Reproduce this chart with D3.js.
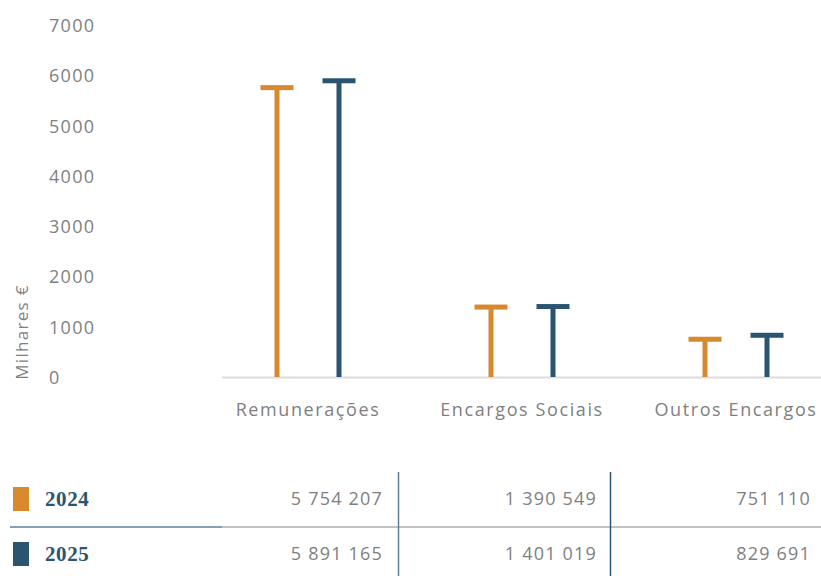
<!DOCTYPE html>
<html>
<head>
<meta charset="utf-8">
<script src="https://cdn.jsdelivr.net/npm/d3@7"></script>
<style>
  html, body { margin: 0; padding: 0; background: #fff; }
  svg { display: block; }
  text { font-family: "Open Sans", sans-serif; }
</style>
</head>
<body>
<svg id="chart" width="821" height="576"></svg>
<script>
// Staff costs by category, in euros
const categories = ["Remunerações", "Encargos Sociais", "Outros Encargos"];
const years = ["2024", "2025"];
const values2024 = [5754207, 1390549, 751110];
const values2025 = [5891165, 1401019, 829691];
const yTicks = [0, 1000, 2000, 3000, 4000, 5000, 6000, 7000];
const colors = ["#d8892d", "#2a5570"];
const seriesValues = [values2024, values2025];

const svg = d3.select("#chart");
const labelFont = "18px";
const labelSpacing = "1.3px";

const y = d3.scaleLinear().domain([0, 7000]).range([377, 25]);
const x = d3.scaleBand().domain(categories).range([201, 843]);
const xs = d3.scalePoint().domain(years).range([x.bandwidth() / 2 - 31, x.bandwidth() / 2 + 31]);

// y tick labels (no axis line)
const yAxis = d3.axisLeft(y).tickValues(yTicks).tickSize(0).tickFormat(d3.format("d"));
const gy = svg.append("g").attr("transform", "translate(49,0)").call(yAxis);
gy.select(".domain").remove();
gy.selectAll("text")
  .attr("x", 0)
  .attr("dy", "0.36em")
  .attr("text-anchor", "start")
  .attr("fill", "#7f7f7f")
  .style("font-size", labelFont)
  .style("letter-spacing", labelSpacing);

svg.append("text")
  .attr("transform", "translate(28,332) rotate(-90)")
  .attr("text-anchor", "middle")
  .attr("fill", "#7f7f7f")
  .style("font-size", "17px")
  .style("letter-spacing", "1.3px")
  .text("Milhares €");

// baseline
svg.append("line")
  .attr("x1", 222).attr("x2", 821)
  .attr("y1", y(0) + 0.5).attr("y2", y(0) + 0.5)
  .attr("stroke", "#dcdcdc").attr("stroke-width", 2);

// x category labels
const xAxis = d3.axisBottom(x).tickSize(0);
const gx = svg.append("g").attr("transform", `translate(0,${y(0)})`).call(xAxis);
gx.select(".domain").remove();
gx.selectAll("text")
  .attr("y", 39)
  .attr("dy", "0")
  .attr("fill", "#7f7f7f")
  .style("font-size", labelFont)
  .style("letter-spacing", "1.6px");

// T-shaped markers: stem plus cap
const capW = 33, stemW = 5, capH = 5;
years.forEach((yr, si) => {
  const g = svg.append("g");
  const data = categories.map((c, i) => ({ c, v: seriesValues[si][i] / 1000 }));
  g.selectAll("rect.stem").data(data).join("rect")
    .attr("class", "stem")
    .attr("x", d => x(d.c) + xs(yr) - stemW / 2)
    .attr("y", d => y(d.v))
    .attr("width", stemW)
    .attr("height", d => y(0) - y(d.v))
    .attr("fill", colors[si]);
  g.selectAll("rect.cap").data(data).join("rect")
    .attr("class", "cap")
    .attr("x", d => x(d.c) + xs(yr) - capW / 2)
    .attr("y", d => y(d.v) - capH / 2)
    .attr("width", capW)
    .attr("height", capH)
    .attr("fill", colors[si]);
});

// data table below the chart
const rowY = [498, 553];
const fmt = v => d3.format(",")(v).replace(/,/g, " ");
const colRight = categories.map(c => x(c) + x.bandwidth() / 2 + 75);

years.forEach((yr, si) => {
  svg.append("rect")
    .attr("x", 13).attr("y", rowY[si] - 11)
    .attr("width", 16).attr("height", 24)
    .attr("fill", colors[si]);
  svg.append("text")
    .attr("x", 45).attr("y", rowY[si] + 8)
    .attr("fill", "#2a5570")
    .style("font-family", "'Liberation Serif', 'DejaVu Serif', serif")
    .style("font-weight", "bold")
    .style("font-size", "21px")
    .style("letter-spacing", "0.6px")
    .text(yr);
  seriesValues[si].forEach((v, i) => {
    svg.append("text")
      .attr("x", colRight[i]).attr("y", rowY[si] + 7)
      .attr("text-anchor", "end")
      .attr("fill", "#7f7f7f")
      .style("font-size", labelFont)
      .style("letter-spacing", "1.2px")
      .text(fmt(v));
  });
});

// table rules
svg.append("line").attr("x1", 10).attr("x2", 222).attr("y1", 527).attr("y2", 527)
  .attr("stroke", "#5f7f99").attr("stroke-width", 1.5);
svg.append("line").attr("x1", 222).attr("x2", 821).attr("y1", 527).attr("y2", 527)
  .attr("stroke", "#a9b0b3").attr("stroke-width", 1.5);
svg.append("line").attr("x1", 398.5).attr("x2", 398.5).attr("y1", 472).attr("y2", 576)
  .attr("stroke", "#5f7f99").attr("stroke-width", 1.5);
svg.append("line").attr("x1", 610.5).attr("x2", 610.5).attr("y1", 472).attr("y2", 576)
  .attr("stroke", "#2a5570").attr("stroke-width", 1.5);
</script>
</body>
</html>
